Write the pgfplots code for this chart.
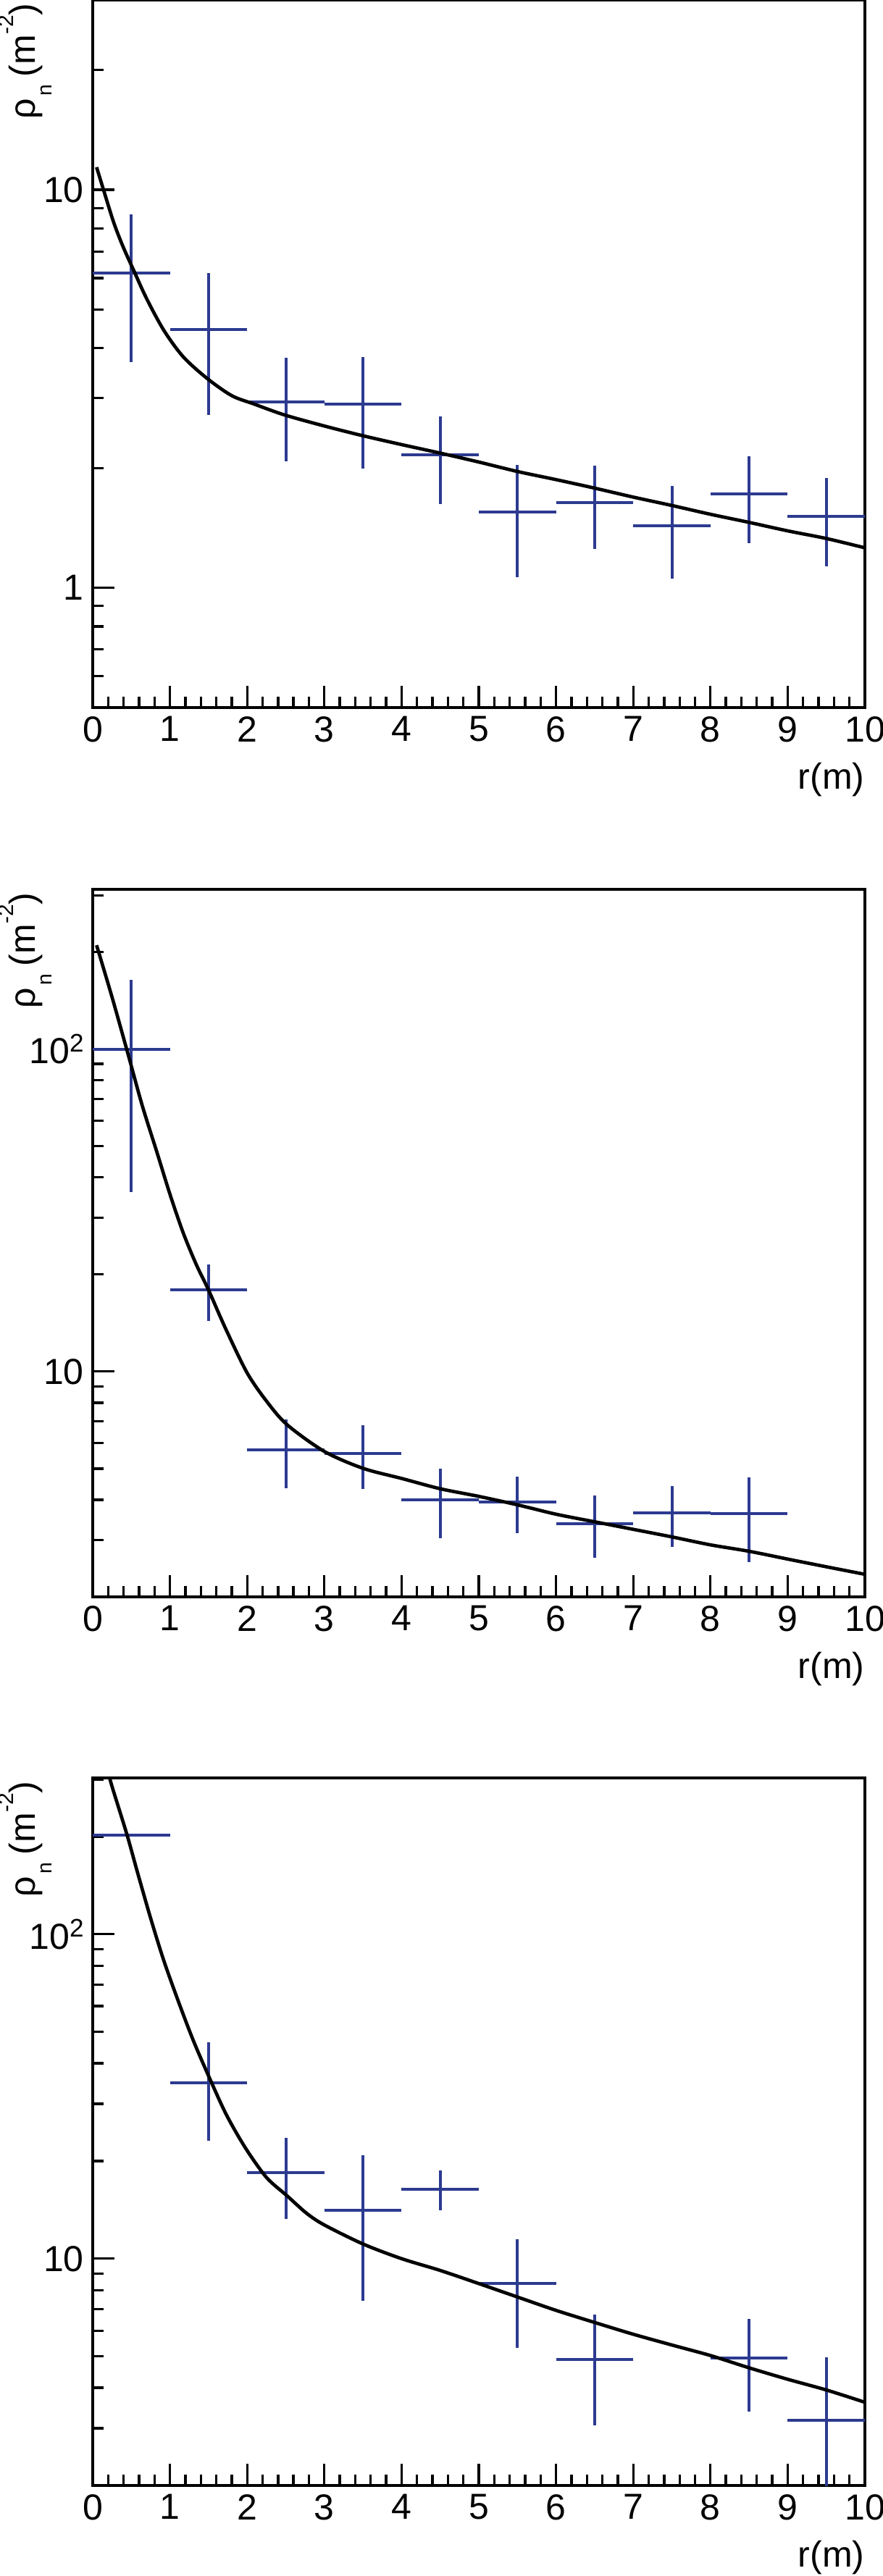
\documentclass[border=0pt]{standalone}
\usepackage{fontspec}
\setmainfont{Liberation Sans}
\usepackage{pgfplots}
\pgfplotsset{compat=1.18}
\definecolor{navy}{RGB}{44,58,144}
\pgfkeys{/pgf/number format/assume math mode=true}
\newcommand{\sups}[1]{\raisebox{5pt}{\fontsize{10.5}{12}\selectfont #1}}
\pgfplotsset{
  rootstyle/.style={
    scale only axis, width=319.8pt, height=293.1pt,
    anchor=north west,
    xmin=0, xmax=10,
    axis line style={line width=1.2pt},
    tick style={line width=1.0pt, black},
    tick align=inside, xtick pos=lower, ytick pos=left,
    major tick length=9pt, minor tick length=4.5pt,
    xtick={0,...,10}, minor x tick num=4,
    tick label style={font=\fontsize{15}{18}\selectfont, inner sep=3.5pt},
    label style={font=\fontsize{15}{18}\selectfont},
    xlabel={r(m)},
    xlabel style={at={(axis description cs:1,0)}, anchor=north east, yshift=-22.8pt, inner sep=0pt},
    ylabel={ρ\hspace{1pt}\raisebox{-7pt}{\fontsize{8.5}{10}\selectfont n}\hspace{0.22em}(m\raisebox{9pt}{\fontsize{9}{10}\selectfont -2})},
    ylabel style={at={(axis description cs:-0.075,0.996)}, anchor=base east, inner sep=0pt},
  },
  fitline/.style={black, line width=1.4pt, smooth, no markers},
  datapts/.style={mark=none, draw=none,
    /pgfplots/error bars/x dir=both, /pgfplots/error bars/x explicit,
    /pgfplots/error bars/y dir=both, /pgfplots/error bars/y explicit,
    /pgfplots/error bars/error mark=none,
    /pgfplots/error bars/error bar style={draw=navy, line width=1.2pt, solid}},
}
\begin{document}
\begin{tikzpicture}
\path[use as bounding box] (-38.4pt,0pt) rectangle (327.3pt,-1067.1pt);
% ---------------- panel 1
\begin{axis}[rootstyle, ymode=log, at={(0pt,0pt)},
  ymin=0.5, ymax=30, ytick={1,10}, yticklabels={1,10},
  minor ytick={0.5,0.6,0.7,0.8,0.9,2,3,4,5,6,7,8,9,20,30}]
\addplot[datapts] coordinates {
 (0.5,6.18) +- (0.5,2.49)
 (1.5,4.45) +- (0.5,1.73)
 (2.5,2.93) +- (0.5,0.855)
 (3.5,2.90) +- (0.5,0.905)
 (4.5,2.16) +- (0.5,0.535)
 (5.5,1.55) +- (0.5,0.485)
 (6.5,1.64) +- (0.5,0.39)
 (7.5,1.43) +- (0.5,0.375)
 (8.5,1.72) +- (0.5,0.425)
 (9.5,1.51) +- (0.5,0.38)
};
\addplot[fitline] coordinates {
 (0.05,11.4) (0.14,10.0) (0.27,8.30) (0.39,7.22) (0.53,6.28) (0.70,5.32)
 (0.92,4.44) (1.17,3.81) (1.48,3.36) (1.80,3.04) (2.08,2.90) (2.48,2.72)
 (3.0,2.55) (3.5,2.41) (4.0,2.29) (4.5,2.18) (5.0,2.07) (5.5,1.96)
 (6.0,1.87) (6.5,1.78) (7.0,1.69) (7.5,1.61) (8.0,1.53) (8.5,1.46)
 (9.0,1.39) (9.5,1.33) (10.0,1.26)
};
\end{axis}
% ---------------- panel 2
\begin{axis}[rootstyle, ymode=log, at={(0pt,-368.4pt)},
  ymin=2, ymax=313, ytick={10,100}, yticklabels={10,{10\sups{2}}},
  minor ytick={2,3,4,5,6,7,8,9,20,30,40,50,60,70,80,90,200,300}]
\addplot[datapts] coordinates {
 (0.5,100) +- (0.5,64)
 (1.5,17.9) +- (0.5,3.55)
 (2.5,5.73) +- (0.5,1.38)
 (3.5,5.57) +- (0.5,1.25)
 (4.5,4.01) +- (0.5,0.975)
 (5.5,3.93) +- (0.5,0.78)
 (6.5,3.38) +- (0.5,0.74)
 (7.5,3.64) +- (0.5,0.78)
 (8.5,3.63) +- (0.5,1.07)
};
\addplot[fitline] coordinates {
 (0.05,210) (0.25,145) (0.46,96) (0.64,67) (0.83,48) (1.0,35.5)
 (1.17,27) (1.34,21.5) (1.5,17.9) (1.72,13.6) (2.0,9.9) (2.26,8.04)
 (2.52,6.83) (3.0,5.65) (3.5,5.01) (4.0,4.66) (4.5,4.33) (5.0,4.10)
 (5.5,3.86) (6.0,3.61) (6.5,3.42) (7.0,3.24) (7.5,3.07) (8.0,2.90)
 (8.5,2.77) (9.0,2.62) (9.5,2.48) (10.0,2.35)
};
\end{axis}
% ---------------- panel 3
\begin{axis}[rootstyle, ymode=log, at={(0pt,-736.5pt)},
  ymin=2, ymax=303, ytick={10,100}, yticklabels={10,{10\sups{2}}},
  minor ytick={2,3,4,5,6,7,8,9,20,30,40,50,60,70,80,90,200,300}]
\addplot[datapts] coordinates {
 (0.5,202) +- (0.5,0)
 (1.5,34.8) +- (0.5,11.7)
 (2.5,18.4) +- (0.5,5.15)
 (3.5,14.1) +- (0.5,6.7)
 (4.5,16.4) +- (0.5,2.3)
 (5.5,8.41) +- (0.5,3.09)
 (6.5,4.90) +- (0.5,1.84)
 (8.5,4.95) +- (0.5,1.57)
 (9.5,3.18) +- (0.5,1.8)
};
\addplot[fitline] coordinates {
 (0.20,325) (0.234,294) (0.44,204) (0.58,155) (0.75,112) (0.92,83)
 (1.11,62) (1.30,47.2) (1.5,36.6) (1.73,27.8) (1.98,21.9) (2.25,17.8)
 (2.52,15.6) (2.77,13.8) (3.0,12.7) (3.5,11.1) (4.0,10.0) (4.5,9.20)
 (5.0,8.38) (5.5,7.62) (6.0,6.93) (6.5,6.36) (7.0,5.85) (7.5,5.42)
 (8.0,5.03) (8.5,4.61) (9.0,4.25) (9.5,3.94) (10.0,3.61)
};
\end{axis}
\end{tikzpicture}
\end{document}
